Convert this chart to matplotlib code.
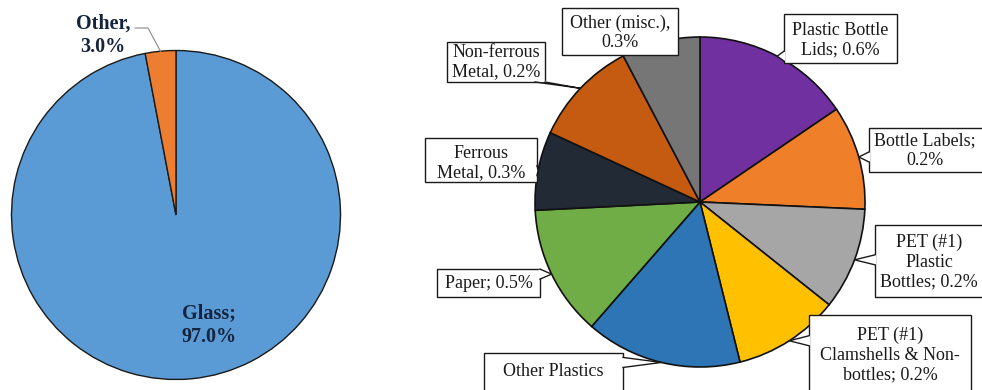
import numpy as np
import matplotlib
matplotlib.use("Agg")
import matplotlib.pyplot as plt
from matplotlib.patches import Rectangle, Polygon
from matplotlib.lines import Line2D

plt.rcParams['font.family'] = ['Liberation Serif', 'DejaVu Serif']

# ---------------- data ----------------
left_cats = ['Glass', 'Other']
left_values = [97.0, 3.0]
left_texts = ['Glass;\n97.0%', 'Other,\n3.0%']
left_colors = ['#5B9BD5', '#ED7D31']

right_cats = ['Plastic Bottle Lids', 'Bottle Labels', 'PET (#1) Plastic Bottles',
              'PET (#1) Clamshells & Non-bottles', 'Other Plastics', 'Paper',
              'Ferrous Metal', 'Non-ferrous Metal', 'Other (misc.)']
right_shares = [15.5, 10.2, 10.0, 10.4, 15.3, 12.8, 7.7, 10.4, 7.7]
right_texts = ['Plastic Bottle\nLids; 0.6%', 'Bottle Labels;\n0.2%',
               'PET (#1)\nPlastic\nBottles; 0.2%', 'PET (#1)\nClamshells & Non-\nbottles; 0.2%',
               'Other Plastics', 'Paper; 0.5%', 'Ferrous\nMetal, 0.3%',
               'Non-ferrous\nMetal, 0.2%', 'Other (misc.),\n0.3%']
right_colors = ['#7030A0', '#F07F2A', '#A6A6A6', '#FFC000', '#2E75B6',
                '#70AD47', '#222A35', '#C55A11', '#767676']

# ---------------- layout (pixels, image coords: y down) ----------------
W, H = 982, 390
# label boxes: left, top, width, height
right_boxes = [(784, 14, 113, 49), (869, 128, 116, 44), (875, 225, 110, 72),
               (809, 315, 162, 90), (484, 353, 139, 60), (437, 269, 103, 28),
               (425, 138, 112, 44), (447, 42, 98, 40), (562, 8, 116, 47)]
right_text_pos = [(840, 40), (925, 151), (929, 262), (890, 355), (553, 372),
                  (489, 283), (481, 163), (496, 62), (620, 33)]

fig = plt.figure(figsize=(W / 100, H / 100), dpi=100)
fig.patch.set_facecolor('white')

# left pie
lc, lr = (176, 215), 164.5
axl = fig.add_axes([(lc[0] - lr) / W, (H - lc[1] - lr) / H, 2 * lr / W, 2 * lr / H])
wl, _ = axl.pie(left_values, colors=left_colors, startangle=90, counterclock=False,
                wedgeprops=dict(edgecolor='#1a1a1a', linewidth=1.0))
axl.set_aspect('auto')
axl.set_xlim(-1, 1)
axl.set_ylim(-1, 1)
axl.axis('off')

# right pie
rc, rr = (700, 202), 165
axr = fig.add_axes([(rc[0] - rr) / W, (H - rc[1] - rr) / H, 2 * rr / W, 2 * rr / H])
wr, _ = axr.pie(right_shares, colors=right_colors, startangle=90, counterclock=False,
                wedgeprops=dict(edgecolor='#111111', linewidth=1.2))
axr.set_aspect('auto')
axr.set_xlim(-1, 1)
axr.set_ylim(-1, 1)
axr.axis('off')

# overlay in image pixel coordinates
ov = fig.add_axes([0, 0, 1, 1])
ov.set_xlim(0, W)
ov.set_ylim(H, 0)
ov.axis('off')
ov.patch.set_visible(False)


def to_ov(ax, xy):
    disp = ax.transData.transform(xy)
    return ov.transData.inverted().transform(disp)


def mid_point(ax, wedge):
    mid = np.deg2rad((wedge.theta1 + wedge.theta2) / 2)
    return to_ov(ax, (np.cos(mid), np.sin(mid)))


# left labels
txt_col = '#15233d'
ov.text(103, 35, left_texts[1], ha='center', va='center', fontsize=14.5,
        fontweight='bold', color=txt_col, linespacing=1.2)
ov.text(209, 325, left_texts[0], ha='center', va='center', fontsize=14.5,
        fontweight='bold', color=txt_col, linespacing=1.2)
ax_pt = mid_point(axl, wl[1])
ov.add_line(Line2D([135, 148, ax_pt[0]], [28, 28, ax_pt[1]], color='#8a8a8a', lw=0.8))

# right labels with callout boxes
for i, (txt, box, tp) in enumerate(zip(right_texts, right_boxes, right_text_pos)):
    x0, y0, bw, bh = box
    x1, y1 = x0 + bw, y0 + bh
    ov.add_patch(Rectangle((x0, y0), bw, bh, facecolor='white', edgecolor='#1a1a1a',
                           lw=1.0, zorder=3))
    px, py = mid_point(axr, wr[i])
    inside = (x0 <= px <= x1) and (y0 <= py <= y1)
    if not inside:
        cx, cy = min(max(px, x0), x1), min(max(py, y0), y1)
        half = 5
        if cx in (x0, x1) and cy not in (y0, y1):
            by = min(max(cy, y0 + half), y1 - half)
            b1, b2 = (cx, by - half), (cx, by + half)
            inset = (1.2 if cx == x0 else -1.2, 0)
        else:
            bx = min(max(cx, x0 + half), x1 - half)
            b1, b2 = (bx - half, cy), (bx + half, cy)
            inset = (0, 1.2 if cy == y0 else -1.2)
        ov.add_patch(Polygon([(b1[0] + inset[0], b1[1] + inset[1]), (px, py),
                              (b2[0] + inset[0], b2[1] + inset[1])],
                             closed=True, facecolor='white', edgecolor='none', zorder=4))
        ov.add_line(Line2D([b1[0], px, b2[0]], [b1[1], py, b2[1]], color='#1a1a1a',
                           lw=1.0, zorder=5))
    ov.text(tp[0], tp[1], txt, ha='center', va='center', multialignment='center',
            fontsize=13, color='#1a1a1a', linespacing=1.2, zorder=6)

fig.savefig('out.png', dpi=100)
